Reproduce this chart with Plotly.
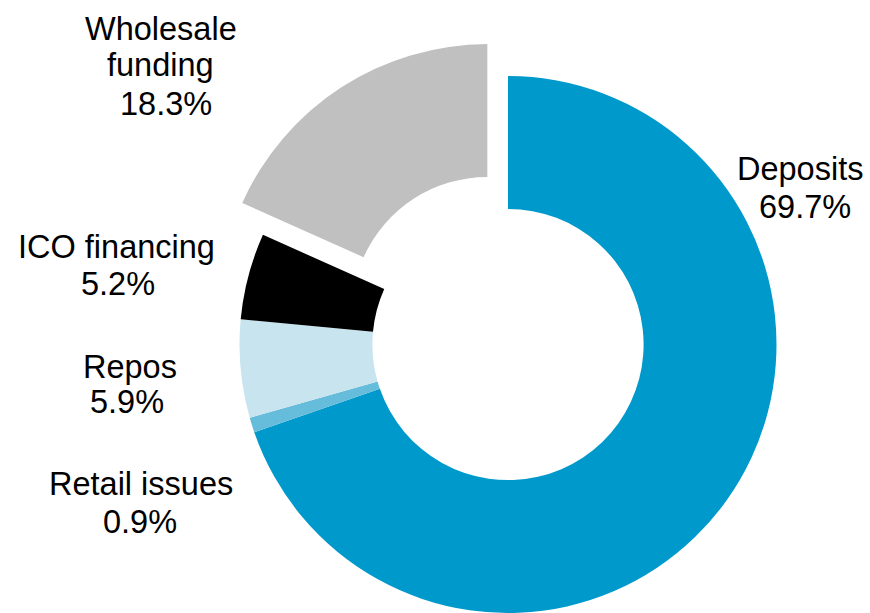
import numpy as np
import plotly.graph_objects as go

# Funding structure, % of total
labels = ["Deposits", "Retail issues", "Repos", "ICO financing", "Wholesale funding"]
shares = [69.7, 0.9, 5.9, 5.2, 18.3]
colors = ["#0099CC", "#66BCDB", "#C8E5EF", "#000000", "#C0C0C0"]
# how each category name is broken over lines in its label
name_lines = [["Deposits"], ["Retail issues"], ["Repos"], ["ICO financing"], ["Wholesale", "funding"]]

W, H = 870, 613
FONT = dict(family="Liberation Sans, Arial, sans-serif", size=32.5, color="#000000")

# ring geometry (pixels)
CX, CY, R = 508, 344.5, 268.5
HOLE = 0.505
PULL = 0.1415          # pull of the exploded slice, as a fraction of the radius
PULLED = labels.index("Wholesale funding")

# label placement: centre x and baseline y of each text line (pixels)
label_pos = {
    "Deposits": [(800, 180.7), (805, 218.3)],
    "Retail issues": [(141, 495), (140, 533)],
    "Repos": [(129.5, 378), (127, 413.5)],
    "ICO financing": [(116, 258.3), (117.5, 295)],
    "Wholesale funding": [(160.5, 40.7), (160, 76.7), (165.7, 115)],
}


def domain(cx, cy, r):
    return dict(
        x=[max(0.0, (cx - r) / W), min(1.0, (cx + r) / W)],
        y=[max(0.0, 1 - (cy + r) / H), min(1.0, 1 - (cy - r) / H)],
    )


# direction of the exploded slice (clockwise from 12 o'clock)
total = sum(shares)
start = sum(shares[:PULLED]) / total * 360
mid = np.radians(start + shares[PULLED] / total * 360 / 2)
dx = PULL * R * np.sin(mid)
dy = -PULL * R * np.cos(mid)

clear = "rgba(0,0,0,0)"
ring_colors = [c if i != PULLED else clear for i, c in enumerate(colors)]
pulled_colors = [c if i == PULLED else clear for i, c in enumerate(colors)]

common = dict(
    labels=labels,
    values=shares,
    hole=HOLE,
    sort=False,
    direction="clockwise",
    rotation=0,
    textinfo="none",
    showlegend=False,
)

fig = go.Figure()
fig.add_trace(go.Pie(marker=dict(colors=ring_colors, line=dict(width=0)),
                     domain=domain(CX, CY, R), **common))
fig.add_trace(go.Pie(marker=dict(colors=pulled_colors, line=dict(width=0)),
                     domain=domain(CX + dx, CY + dy, R), **common))

# category labels with their shares
annotations = []
mid_offset = (0.905 - 0.212) / 2 * FONT["size"]
for name, lines, val in zip(labels, name_lines, shares):
    texts = lines + [f"{val:.1f}%"]
    for text, (x, base) in zip(texts, label_pos[name]):
        annotations.append(dict(
            text=text, x=x / W, y=1 - (base - mid_offset) / H,
            xref="paper", yref="paper", xanchor="center", yanchor="middle",
            showarrow=False, font=FONT, borderpad=0, borderwidth=0,
        ))

fig.update_layout(
    width=W, height=H,
    margin=dict(l=0, r=0, t=0, b=0),
    paper_bgcolor="white", plot_bgcolor="white",
    annotations=annotations,
)

fig.write_html("out.html")
